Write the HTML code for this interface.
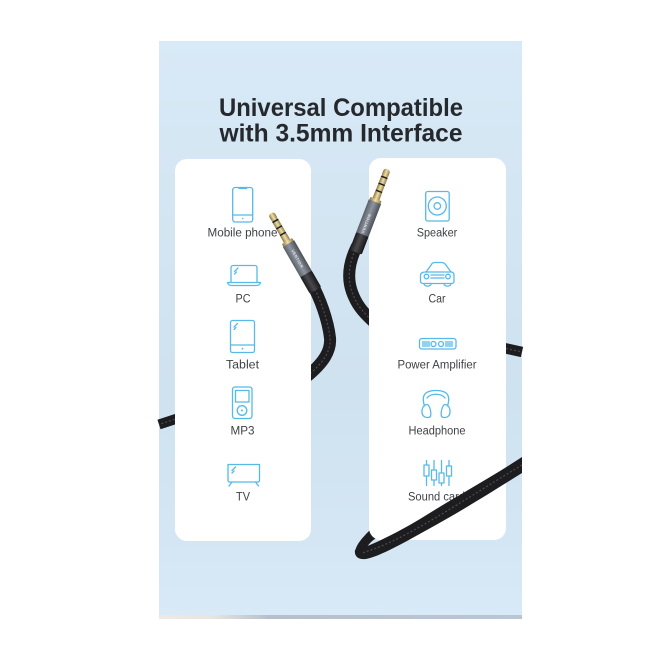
<!DOCTYPE html>
<html><head><meta charset="utf-8"><style>html,body{margin:0;padding:0;background:#fff;width:657px;height:657px;overflow:hidden}svg{display:block}text{font-family:"Liberation Sans",sans-serif}.l{font-size:11.5px;fill:#3f4245;text-anchor:middle}.i{fill:none;stroke:#56b9e8;stroke-width:1.3;stroke-linejoin:round;stroke-linecap:round}.c{fill:none;stroke:#1d1d20;stroke-width:12}.d{fill:none;stroke:#4c4c52;stroke-width:1.2;stroke-dasharray:2 2}</style></head><body>
<svg width="657" height="657" viewBox="0 0 657 657" xmlns="http://www.w3.org/2000/svg">
<defs>
<clipPath id="cl"><polygon points="300,270 345,270 345,385 311,385 311,300"/></clipPath>
<clipPath id="cr"><polygon points="330,240 369,240 369,335 330,335"/></clipPath>
<linearGradient id="bg" x1="0" y1="0" x2="0" y2="1"><stop offset="0" stop-color="#d8e9f7"/><stop offset=".25" stop-color="#d5e6f3"/><stop offset=".6" stop-color="#cfe2f0"/><stop offset=".85" stop-color="#d4e6f4"/><stop offset="1" stop-color="#d8e9f7"/></linearGradient>
<linearGradient id="strip" x1="0" y1="0" x2="1" y2="0"><stop offset="0" stop-color="#efe9e2"/><stop offset=".15" stop-color="#e8e4de"/><stop offset=".3" stop-color="#b6c0cc"/><stop offset="1" stop-color="#b9c6d4"/></linearGradient>
<linearGradient id="gold" x1="0" y1="0" x2="1" y2="0"><stop offset="0" stop-color="#8a7440"/><stop offset=".5" stop-color="#efe0a8"/><stop offset="1" stop-color="#8f7a45"/></linearGradient>
<linearGradient id="gray" x1="0" y1="0" x2="1" y2="0"><stop offset="0" stop-color="#5b6068"/><stop offset=".45" stop-color="#8f95a0"/><stop offset="1" stop-color="#4b4f57"/></linearGradient>
<linearGradient id="boot" x1="0" y1="0" x2="1" y2="0"><stop offset="0" stop-color="#1c1c1e"/><stop offset=".45" stop-color="#4a4a4e"/><stop offset="1" stop-color="#161618"/></linearGradient>
<g id="plug">
<rect x="-3.4" y="-32" width="6.8" height="9" rx="3" fill="url(#gold)"/>
<rect x="-3.4" y="-24" width="6.8" height="1.8" fill="#1e1e1e"/>
<rect x="-3.4" y="-22.5" width="6.8" height="6" fill="url(#gold)"/>
<rect x="-3.4" y="-16.5" width="6.8" height="1.8" fill="#1e1e1e"/>
<rect x="-3.4" y="-15" width="6.8" height="6" fill="url(#gold)"/>
<rect x="-3.4" y="-9" width="6.8" height="1.8" fill="#1e1e1e"/>
<rect x="-3.6" y="-7.5" width="7.2" height="8" fill="url(#gold)"/>
<rect x="-6" y="0" width="12" height="4" rx="1" fill="url(#gold)"/>
<rect x="-6.6" y="3" width="13.2" height="36" fill="url(#gray)"/>
<rect x="-6.6" y="38" width="13.2" height="19" rx="1.5" fill="url(#boot)"/>
</g>
</defs>
<rect x="159" y="41" width="363" height="578" fill="url(#bg)"/>
<rect x="159" y="615" width="363" height="4" fill="url(#strip)"/>

<!-- cables behind the cards -->
<path d="M300 378L159 424.500" fill="none" stroke="#1d1d20" stroke-width="10"/>
<path d="M300 378L159 424.500" class="d"/>
<path d="M385 322L522 352" fill="none" stroke="#1d1d20" stroke-width="10.500"/>
<path d="M385 322L522 352" class="d"/>
<path d="M355 552C356 544 364 536 371 529L378 537C371 541 368 545 366 549Z" fill="#1d1d20"/>

<!-- cards -->
<rect x="175" y="159" width="136" height="382" rx="12" fill="#fff"/>
<rect x="369" y="158" width="137" height="382" rx="12" fill="#fff"/>

<!-- title -->
<text x="341" y="116" text-anchor="middle" font-size="25" font-weight="700" fill="#25282c" textLength="244" lengthAdjust="spacingAndGlyphs">Universal Compatible</text>
<text x="341" y="141.500" text-anchor="middle" font-size="25" font-weight="700" fill="#25282c" textLength="243" lengthAdjust="spacingAndGlyphs">with 3.5mm Interface</text>

<!-- left icons -->
<rect class="i" x="232.700" y="187.500" width="20" height="34.500" rx="2.500"/>
<path class="i" d="M232.700 215H252.700M239 188.500H246.500"/>
<circle cx="242.700" cy="218.500" r=".8" fill="#56b9e8"/>
<text class="l" x="242.500" y="236.500" textLength="70" lengthAdjust="spacingAndGlyphs">Mobile phone</text>

<path class="i" d="M231 282V267.500a2 2 0 0 1 2-2H255a2 2 0 0 1 2 2V282"/>
<path class="i" d="M227.500 282.500H260.500C260 284.500 258.500 285.500 256.500 285.500H231.500C229.500 285.500 228 284.500 227.500 282.500Z"/>
<path class="i" d="M234.500 271.500L238 268M234.500 274L236.500 272"/>
<text class="l" x="243" y="302.500" textLength="15" lengthAdjust="spacingAndGlyphs">PC</text>

<rect class="i" x="230.500" y="320.500" width="24" height="32" rx="2"/>
<path class="i" d="M230.500 345H254.500M234 327L237.500 323.500M234 329.500L236 327.500"/>
<circle cx="242.500" cy="348.700" r=".9" fill="#56b9e8"/>
<text class="l" x="242.500" y="368.500" textLength="33" lengthAdjust="spacingAndGlyphs">Tablet</text>

<rect class="i" x="232.500" y="387" width="19.500" height="31.500" rx="2.500"/>
<rect class="i" x="235.500" y="390.500" width="13.500" height="11.500"/>
<circle class="i" cx="242" cy="410.500" r="4.800"/>
<circle cx="242" cy="410.500" r="1" fill="#56b9e8"/>
<text class="l" x="242.500" y="434.500" textLength="24" lengthAdjust="spacingAndGlyphs">MP3</text>

<path class="i" d="M228 464.500H259.500V480.500a1.500 1.500 0 0 1-1.500 1.500H229.500a1.500 1.500 0 0 1-1.500-1.500Z"/>
<path class="i" d="M232 482L229 486M255.500 482L258.500 486M232 470.500L235.500 467M232 473L234 471"/>
<text class="l" x="243" y="500.500" textLength="14" lengthAdjust="spacingAndGlyphs">TV</text>

<!-- right icons -->
<rect class="i" x="425.700" y="191.500" width="23.500" height="29.500" rx="2"/>
<circle class="i" cx="437.300" cy="206" r="9"/>
<circle class="i" cx="437.300" cy="206" r="3.300"/>
<text class="l" x="437" y="236.500" textLength="40.500" lengthAdjust="spacingAndGlyphs">Speaker</text>

<path class="i" d="M426 272L431.500 264.500C432 263 433.500 262.500 435 262.500H441.500C443 262.500 444.500 263 445.500 264.500L451 272"/>
<path class="i" d="M420.500 275.500C420.500 273 423 272 426 272H451C453 272 454 273.500 454 275.500V281C454 282.500 453 283.500 451.500 283.500H423C421.500 283.500 420.500 282.500 420.500 281Z"/>
<circle class="i" cx="426.500" cy="276.500" r="2.300"/><circle class="i" cx="448" cy="276.500" r="2.300"/>
<path class="i" d="M431 275H444M431 278H444M424 283.500C424 287 431 287 431 283.500M444 283.500C444 287 451 287 451 283.500"/>
<text class="l" x="437" y="302.500" textLength="17" lengthAdjust="spacingAndGlyphs">Car</text>

<rect class="i" x="419.500" y="338.500" width="36.500" height="10.500" rx="2.500"/>
<path class="i" d="M423 341.500V346.500M425 341.500V346.500M427 341.500V346.500M429 341.500V346.500M446 341.500V346.500M448 341.500V346.500M450 341.500V346.500M452 341.500V346.500"/>
<circle class="i" cx="433.500" cy="344" r="2.500"/><circle class="i" cx="441" cy="344" r="2.500"/>
<text class="l" x="437" y="368.500" textLength="79" lengthAdjust="spacingAndGlyphs">Power Amplifier</text>

<path class="i" d="M424.500 406C420 392 429 390.500 436 390.500C443 390.500 452 392 447.500 406M427 398C431 393 441 393 445 398"/>
<path class="i" d="M425 405C422 407 421 412 423 415.500C425 418 429 418 430.500 416.500C431.500 413 430 406 427.500 404.500ZM447 405C450 407 451 412 449 415.500C447 418 443 418 441.500 416.500C440.500 413 442 406 444.500 404.500Z"/>
<text class="l" x="437" y="434.500" textLength="57" lengthAdjust="spacingAndGlyphs">Headphone</text>

<path class="i" d="M426.500 460.500V465M426.500 476V485.500M434 460.500V470M434 480V485.500M441.500 460.500V473M441.500 483V485.500M449 460.500V466M449 476V485.500"/>
<rect class="i" x="424" y="465" width="5" height="11"/><rect class="i" x="431.500" y="470" width="5" height="10"/><rect class="i" x="439" y="473" width="5" height="10"/><rect class="i" x="446.500" y="466" width="5" height="10"/>
<text class="l" x="436.500" y="500.500" textLength="57" lengthAdjust="spacingAndGlyphs">Sound card</text>

<!-- left plug and upper cable (ends at the left card edge) -->
<g clip-path="url(#cl)">
<path class="c" d="M311 282C320 298 328 320 330 338C331 350 325 362 305 378"/>
<path class="d" d="M311 282C320 298 328 320 330 338C331 350 325 362 305 378"/>
</g>
<g transform="translate(287 241) rotate(-30)"><use href="#plug"/></g>
<text transform="translate(292 250) rotate(60)" font-size="3.800" font-weight="700" fill="#e4e6ea" textLength="20" x="0" y="1">VENTION</text>

<!-- right plug and upper cable -->
<g clip-path="url(#cr)">
<path class="c" d="M357 246C349 262 347 278 352 292C356 303 361 311 376 324"/>
<path class="d" d="M357 246C349 262 347 278 352 292C356 303 361 311 376 324"/>
</g>
<g transform="translate(376 199) rotate(21)"><use href="#plug"/></g>
<text transform="translate(363 233) rotate(-69)" font-size="3.800" font-weight="700" fill="#e4e6ea" textLength="20" x="0" y="1">VENTION</text>

<!-- front cable over right card -->
<path d="M522 457V473C495 490 460 512 425 531C400 545 380 556 366 559C358 560 354 556 355 550L365 547C385 539 405 528 420 519C455 497 490 478 522 457Z" fill="#1d1d20"/>
<path class="d" d="M522 465C490 484 458 505 423 525C400 538 382 547 362 553"/>
</svg>
</body></html>
